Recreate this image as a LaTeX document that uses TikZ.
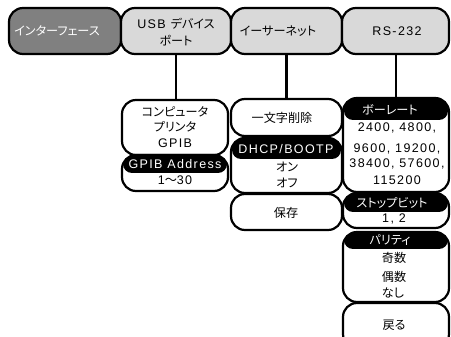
\documentclass[tikz,border=0pt]{standalone}
\usepackage{fontspec}
\setmainfont{Liberation Sans}[LetterSpace=11]
\newfontfamily\jp{Noto Sans CJK JP}[Scale=0.97,RawFeature=+palt]
\definecolor{darkbox}{RGB}{128,128,128}
\definecolor{lightbox}{RGB}{217,217,217}
\tikzset{
 box/.style={draw=black, line width=2.2pt, rounded corners=14pt, fill=white, anchor=north west, inner sep=0pt, outer sep=0pt},
 hdr/.style={fill=black, rounded corners=9pt, anchor=north west, inner sep=0pt, outer sep=0pt},
 lbl/.style={inner sep=0pt, font=\fontsize{12.5}{14}\selectfont, text height=9pt, text depth=0pt},
 wlbl/.style={lbl, text=white},
 conn/.style={line width=2.2pt}
}
\begin{document}
\begin{tikzpicture}[x=1pt,y=-1pt]
\useasboundingbox (0,0) rectangle (451,337);
\clip (0,0) rectangle (451,337);
% top row
\node[box, fill=darkbox, minimum width=112pt, minimum height=46pt] (iface) at (9,8) {};
\node[box, fill=lightbox, minimum width=110pt, minimum height=46pt] (usb) at (121,8) {};
\node[box, fill=lightbox, minimum width=111pt, minimum height=46pt] (eth) at (231,8) {};
\node[box, fill=lightbox, minimum width=107pt, minimum height=46pt] (rs) at (342,8) {};
\node[wlbl] (tiface) at (57,31) {\jp インターフェース};
\node[lbl] (tusb1) at (176,24) {USB {\jp デバイス}};
\node[lbl] (tusb2) at (176,41) {\jp ポート};
\node[lbl] (teth) at (278,31) {\jp イーサーネット};
\node[lbl] (trs) at (397,31) {RS-232};
% column 2
\node[box, minimum width=106pt, minimum height=55pt] (comp) at (122,100) {};
\node[box, minimum width=106pt, minimum height=36pt] (gpib) at (122,155) {};
\node[hdr, minimum width=104pt, minimum height=17pt] (gpibh) at (123,156) {};
\node[lbl] (tc1) at (175,112) {\jp コンピュータ};
\node[lbl] (tc2) at (175,127) {\jp プリンタ};
\node[lbl] (tc3) at (175,143) {GPIB};
\node[wlbl] (tg1) at (175,164) {GPIB Address};
\node[lbl] (tg2) at (175,180) {1{\jp ～}30};
% column 3
\node[box, minimum width=111pt, minimum height=37pt] (del) at (231,99) {};
\node[box, minimum width=111pt, minimum height=55pt] (dhcp) at (231,138) {};
\node[hdr, minimum width=109pt, minimum height=20pt] (dhcph) at (232,139) {};
\node[box, minimum width=111pt, minimum height=36pt] (save) at (231,194) {};
\node[lbl] (tdel) at (282,118) {\jp 一文字削除};
\node[wlbl] (tdh) at (286,149) {DHCP/BOOTP};
\node[lbl] (ton) at (287,167) {\jp オン};
\node[lbl] (toff) at (287,183) {\jp オフ};
\node[lbl] (tsave) at (286,213) {\jp 保存};
% column 4
\node[box, minimum width=106pt, minimum height=94pt] (baud) at (343,98) {};
\node[hdr, minimum width=104pt, minimum height=21pt] (baudh) at (344,99) {};
\node[box, minimum width=106pt, minimum height=35pt] (stop) at (343,193) {};
\node[hdr, minimum width=104pt, minimum height=18pt] (stoph) at (344,194) {};
\node[box, minimum width=106pt, minimum height=70pt] (par) at (343,232) {};
\node[hdr, minimum width=104pt, minimum height=16pt] (parh) at (344,233) {};
\node[box, minimum width=106pt, minimum height=45pt] (back) at (343,303) {};
\node[wlbl] (tb0) at (390,110) {\jp ボーレート};
\node[lbl] (tb1) at (397,127) {2400, 4800,};
\node[lbl] (tb2) at (397,148) {9600, 19200,};
\node[lbl] (tb3) at (397,163) {38400, 57600,};
\node[lbl] (tb4) at (397,180) {115200};
\node[wlbl] (ts0) at (392,203) {\jp ストップビット};
\node[lbl] (ts1) at (394,218) {1, 2};
\node[wlbl] (tp0) at (390,240) {\jp パリティ};
\node[lbl] (tp1) at (394,258) {\jp 奇数};
\node[lbl] (tp2) at (394,277) {\jp 偶数};
\node[lbl] (tp3) at (393,293) {\jp なし};
\node[lbl] (tback) at (394,325) {\jp 戻る};
% connectors
\draw[conn] (usb.south) -- (usb.south |- comp.north);
\draw[conn] (eth.south) -- (eth.south |- del.north);
\draw[conn] (baud.north) ++(0,0) coordinate (bt) (rs.south -| bt) -- (bt);
\end{tikzpicture}
\end{document}
